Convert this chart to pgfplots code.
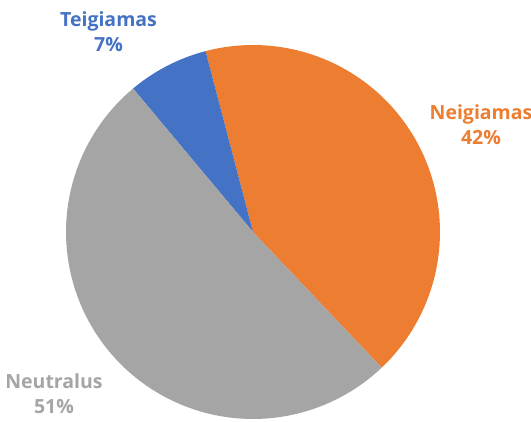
\documentclass[border=0pt]{standalone}
\usepackage{pgfplots}
\pgfplotsset{compat=1.18}
\usepackage{fontspec}
\setmainfont{Open Sans}
\definecolor{cblue}{HTML}{4472C4}
\definecolor{corange}{HTML}{ED7D31}
\definecolor{cgray}{HTML}{A5A5A5}
% shares (percent): Teigiamas 7, Neigiamas 42, Neutralus 51
% start angle of Teigiamas/Neigiamas boundary: 104.7 deg, slices clockwise
\begin{document}
\begin{tikzpicture}
\begin{axis}[
  x=1pt, y=1pt,
  xmin=0, xmax=531, ymin=0, ymax=422,
  hide axis, clip=false,
  anchor=origin, at={(0,0)},
]
% Neigiamas 42% -> 151.2 deg
\addplot[fill=corange, draw=none, domain=-46.5:104.7, samples=80, variable=\t]
  ({253+187*cos(t)},{190+187*sin(t)}) -- (axis cs:253,190) -- cycle;
% Teigiamas 7% -> 25.2 deg
\addplot[fill=cblue, draw=none, domain=104.7:129.9, samples=20, variable=\t]
  ({253+187*cos(t)},{190+187*sin(t)}) -- (axis cs:253,190) -- cycle;
% Neutralus 51% -> 183.6 deg
\addplot[fill=cgray, draw=none, domain=129.9:313.5, samples=90, variable=\t]
  ({253+187*cos(t)},{190+187*sin(t)}) -- (axis cs:253,190) -- cycle;

\node[font=\fontsize{19.5}{25}\selectfont\bfseries, text=cblue, align=center] at (axis cs:108.5,390.5) {Teigiamas\\7\%};
\node[font=\fontsize{19.5}{25}\selectfont\bfseries, text=corange, align=center] at (axis cs:481,297.5) {Neigiamas\\42\%};
\node[font=\fontsize{19.5}{25}\selectfont\bfseries, text=cgray, align=center] at (axis cs:54,28.5) {Neutralus\\51\%};
\end{axis}
\pgfresetboundingbox
\useasboundingbox (0,0) rectangle (531pt,422pt);
\end{tikzpicture}
\end{document}
